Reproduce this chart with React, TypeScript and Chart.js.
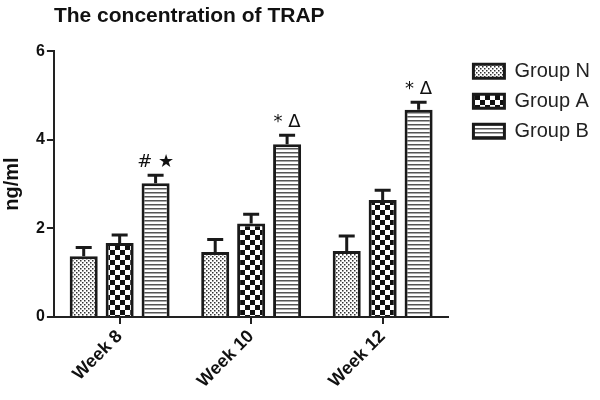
import React, { useEffect, useRef } from "react";
import { Chart, registerables } from "chart.js";

Chart.register(...registerables);

const categories = ["Week 8", "Week 10", "Week 12"];
const seriesNames = ["Group N", "Group A", "Group B"];
const groupN = [1.37, 1.47, 1.49];
const groupA = [1.67, 2.11, 2.64];
const groupB = [3.02, 3.9, 4.68];
const errN = [0.2, 0.28, 0.34];
const errA = [0.18, 0.21, 0.22];
const errB = [0.18, 0.2, 0.17];
const annotationsB = ["# ★", "* Δ", "* Δ"];
const yTicks = [0, 2, 4, 6];

const LEGEND_GAP = 15;

function makePattern(kind: string): CanvasPattern | string {
  const c = document.createElement("canvas");
  const ctx = c.getContext("2d");
  if (!ctx) return "#888";
  if (kind === "fine") {
    c.width = 4; c.height = 4;
    ctx.fillStyle = "#ffffff"; ctx.fillRect(0, 0, 4, 4);
    ctx.fillStyle = "#333333";
    ctx.fillRect(0, 0, 1.5, 1.5); ctx.fillRect(2, 2, 1.5, 1.5);
  } else if (kind === "checker") {
    c.width = 10; c.height = 10;
    ctx.fillStyle = "#ffffff"; ctx.fillRect(0, 0, 10, 10);
    ctx.fillStyle = "#111111";
    ctx.fillRect(0, 0, 5, 5); ctx.fillRect(5, 5, 5, 5);
  } else {
    c.width = 4; c.height = 4;
    ctx.fillStyle = "#ffffff"; ctx.fillRect(0, 0, 4, 4);
    ctx.fillStyle = "#555555";
    ctx.fillRect(0, 0, 4, 1.5);
  }
  return ctx.createPattern(c, "repeat") || "#888";
}

const legendGapPlugin = {
  id: "legendGap",
  afterInit(chart: any) {
    const lg = chart.legend;
    if (!lg || lg._gapPatched) return;
    const origFit = lg.fit.bind(lg);
    lg.fit = function () {
      origFit();
      this.width += LEGEND_GAP;
    };
    lg._gapPatched = true;
  },
  afterLayout(chart: any) {
    if (chart.legend) chart.legend.left += LEGEND_GAP;
  },
};

const errorBarPlugin = {
  id: "errorBars",
  afterDatasetsDraw(chart: any) {
    const ctx = chart.ctx;
    const yScale = chart.scales.y;
    const errs = [errN, errA, errB];
    const vals = [groupN, groupA, groupB];
    ctx.save();
    ctx.strokeStyle = "#1a1a1a";
    ctx.lineWidth = 3;
    chart.data.datasets.forEach((ds: any, di: number) => {
      const meta = chart.getDatasetMeta(di);
      meta.data.forEach((bar: any, i: number) => {
        const x = bar.x;
        const yTop = yScale.getPixelForValue(vals[di][i]);
        const yErr = yScale.getPixelForValue(vals[di][i] + errs[di][i]);
        ctx.beginPath();
        ctx.moveTo(x, yTop);
        ctx.lineTo(x, yErr);
        ctx.moveTo(x - 8, yErr);
        ctx.lineTo(x + 8, yErr);
        ctx.stroke();
        if (di === 2) {
          ctx.fillStyle = "#111";
          ctx.font = "18px 'DejaVu Sans', sans-serif";
          ctx.textAlign = "center";
          ctx.textBaseline = "bottom";
          ctx.fillText(annotationsB[i], x, yErr - 4);
        }
      });
    });
    ctx.restore();
  },
};

export default function App() {
  const ref = useRef<HTMLCanvasElement | null>(null);
  useEffect(() => {
    if (!ref.current) return;
    const pats = [makePattern("fine"), makePattern("checker"), makePattern("stripes")];
    const allData = [groupN, groupA, groupB];
    const chart = new Chart(ref.current, {
      type: "bar",
      data: {
        labels: categories,
        datasets: seriesNames.map((name, i) => ({
          label: name,
          data: allData[i],
          backgroundColor: pats[i] as any,
          borderColor: "#1a1a1a",
          borderWidth: 3,
          barPercentage: 0.78,
          categoryPercentage: 0.82,
        })),
      },
      options: {
        animation: false,
        responsive: true,
        maintainAspectRatio: false,
        layout: { padding: { top: 4, right: 0, left: 0, bottom: 6 } },
        plugins: {
          title: {
            display: true,
            text: "The concentration of TRAP",
            align: "start",
            fullSize: false,
            color: "#111",
            font: { family: "'Liberation Sans', Arial, sans-serif", size: 21, weight: "bold" },
            padding: { top: 0, bottom: 22 },
          },
          legend: {
            position: "right",
            align: "start",
            fullSize: false,
            labels: {
              boxWidth: 31,
              boxHeight: 14,
              padding: 10,
              color: "#222",
              font: { family: "'Liberation Sans', Arial, sans-serif", size: 20 },
            },
          },
          tooltip: { enabled: false },
        },
        scales: {
          x: {
            grid: { display: true, drawOnChartArea: false, offset: false, tickLength: 7, color: "#222", lineWidth: 2 },
            border: { display: true, color: "#222", width: 2 },
            ticks: {
              color: "#111",
              maxRotation: 45,
              minRotation: 45,
              padding: 2,
              font: { family: "'Liberation Sans', Arial, sans-serif", size: 18, weight: "bold" },
            },
          },
          y: {
            min: 0,
            max: 6,
            afterBuildTicks: (axis: any) => {
              axis.ticks = yTicks.map((v) => ({ value: v }));
            },
            grid: { display: true, drawOnChartArea: false, tickLength: 7, color: "#222", lineWidth: 2 },
            border: { display: true, color: "#222", width: 2 },
            ticks: {
              color: "#111",
              padding: 2,
              font: { family: "'Liberation Sans', Arial, sans-serif", size: 16, weight: "bold" },
            },
            title: {
              display: true,
              text: "ng/ml",
              color: "#111",
              padding: { top: 0, bottom: 10 },
              font: { family: "'Liberation Sans', Arial, sans-serif", size: 20, weight: "bold" },
            },
          },
        },
      },
      plugins: [legendGapPlugin, errorBarPlugin],
    });
    return () => chart.destroy();
  }, []);
  return (
    <div style={{ position: "fixed", left: 0, top: 0, width: 600, height: 400, background: "#fff" }}>
      <canvas ref={ref} />
    </div>
  );
}
